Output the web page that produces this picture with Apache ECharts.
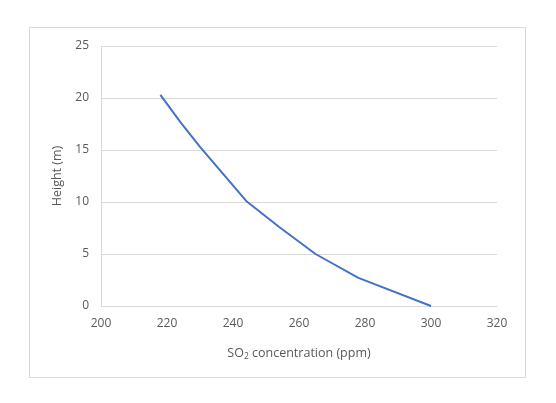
<!DOCTYPE html>
<html>
<head>
<meta charset="utf-8">
<script src="https://cdn.jsdelivr.net/npm/echarts@6/dist/echarts.min.js"></script>
<style>
html,body{margin:0;padding:0;background:#fff;}
#frame{position:absolute;left:29px;top:27px;width:497px;height:351px;border:1px solid #d9d9d9;box-sizing:border-box;}
#chart{position:absolute;left:0;top:0;width:556px;height:403px;}
</style>
</head>
<body>
<div id="frame"></div>
<div id="chart"></div>
<script>
const concentration = [218, 224, 230, 244, 254, 265, 278, 300];
const height = [20.3, 17.7, 15.3, 10.1, 7.6, 5.0, 2.7, 0];
const xTicks = [200, 320, 20];
const yTicks = [0, 25, 5];

const chart = echarts.init(document.getElementById('chart'), null, {renderer: 'canvas'});
const font = '"Open Sans", "Liberation Sans", sans-serif';
chart.setOption({
  animation: false,
  grid: {left: 101, right: 59, top: 46, bottom: 97, containLabel: false},
  xAxis: {
    type: 'value', min: xTicks[0], max: xTicks[1], interval: xTicks[2],
    name: 'SO{sub|2} concentration (ppm)',
    nameLocation: 'middle', nameGap: 40,
    nameTextStyle: {
      color: '#595959', fontFamily: font, fontSize: 12.5,
      rich: {sub: {fontSize: 8.5, color: '#595959', fontFamily: font, verticalAlign: 'bottom', padding: [6, 0, 0, 0]}}
    },
    axisLine: {show: true, lineStyle: {color: '#d9d9d9', width: 1}},
    axisTick: {show: false},
    splitLine: {show: false},
    axisLabel: {color: '#595959', fontFamily: font, fontSize: 12, margin: 12}
  },
  yAxis: {
    type: 'value', min: yTicks[0], max: yTicks[1], interval: yTicks[2],
    name: 'Height (m)', nameLocation: 'middle', nameGap: 34, nameRotate: 90,
    nameTextStyle: {color: '#595959', fontFamily: font, fontSize: 12.5},
    axisLine: {show: true, lineStyle: {color: '#d9d9d9', width: 1}},
    axisTick: {show: false},
    splitLine: {show: true, lineStyle: {color: '#d9d9d9', width: 1}},
    axisLabel: {color: '#595959', fontFamily: font, fontSize: 12, margin: 12}
  },
  series: [{
    type: 'line',
    data: concentration.map((c, i) => [c, height[i]]),
    showSymbol: false,
    smooth: false,
    lineStyle: {color: '#4472c4', width: 2},
    itemStyle: {color: '#4472c4'}
  }]
});
</script>
</body>
</html>
